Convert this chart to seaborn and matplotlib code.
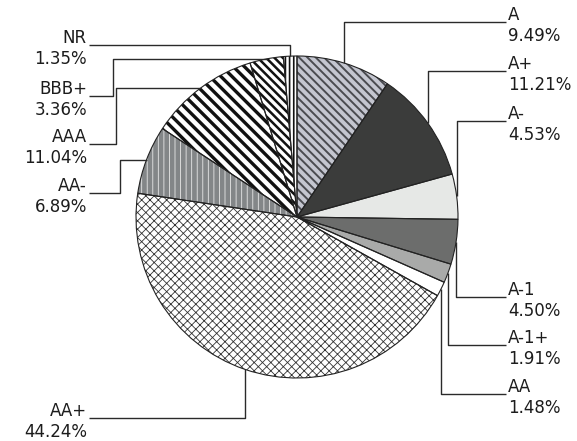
import matplotlib
matplotlib.use("Agg")
import matplotlib.pyplot as plt
import seaborn as sns
import numpy as np

# ---- data ----
ratings = ["A", "A+", "A-", "A-1", "A-1+", "AA", "AA+", "AA-", "AAA", "BBB+", "NR"]
shares = [9.49, 11.21, 4.53, 4.50, 1.91, 1.48, 44.24, 6.89, 11.04, 3.36, 1.35]
pct_text = [f"{v:.2f}%" for v in shares]

# ---- styles ----
face = ["#c4c6d0", "#3b3c3b", "#e6e8e6", "#6c6d6c", "#a9aaa9", "#ffffff",
        "#ffffff", "#838688", "#ffffff", "#ffffff", "#ffffff"]
hatches = ["\\\\\\\\", None, None, None, None, None, "xxxx", "|||",
           "\\\\\\", "\\\\\\\\", "||||"]
hatch_col = ["#4a4b50", "#3b3c3b", "#e6e8e6", "#6c6d6c", "#a9aaa9", "#ffffff",
             "#333333", "#e8e8e8", "#111111", "#111111", "#111111"]
hatch_lw = [1.4, 1.0, 1.0, 1.0, 1.0, 1.0, 0.6, 0.6, 2.4, 1.8, 1.2]

# ---- label layout (pixel coordinates, y downward) ----
side = ["R", "R", "R", "R", "R", "R", "L", "L", "L", "L", "L"]
line_y = [22, 71, 121, 297, 345, 394, 418, 193, 144, 96, 45]
elbow_x = [None, None, None, None, None, None, None, 120, 116, 113, None]

W, H = 577, 441
CX, CY, R = 297, 217, 161

sns.set_theme(style="white")
plt.rcParams["font.family"] = ["DejaVu Sans"]

fig = plt.figure(figsize=(W / 100, H / 100), dpi=100)
ax = fig.add_axes([0, 0, 1, 1])


def Y(py):
    return H - py


wedges, _ = ax.pie(shares, startangle=90, counterclock=False,
                   center=(CX, Y(CY)), radius=R,
                   colors=face,
                   wedgeprops=dict(linewidth=0))
for w, hc, ht, hl in zip(wedges, hatch_col, hatches, hatch_lw):
    w.set_edgecolor(hc)
    w.set_linewidth(0)
    if ht:
        w.set_hatch(ht)
        if hasattr(w, "set_hatch_linewidth"):
            w.set_hatch_linewidth(hl)
        else:
            w._hatch_linewidth = hl

# outlines
ax.pie(shares, startangle=90, counterclock=False, center=(CX, Y(CY)), radius=R,
       colors=["none"] * len(shares),
       wedgeprops=dict(fill=False, edgecolor="#222222", linewidth=0.8))

line_kw = dict(color="#2a2a2a", lw=1.0, solid_capstyle="butt", zorder=5)
txt_kw = dict(fontsize=12, color="#1c1c1c", va="baseline")

for w, lab, pct, sd, ly, ex in zip(wedges, ratings, pct_text, side, line_y, elbow_x):
    th = np.deg2rad((w.theta1 + w.theta2) / 2)
    axp = CX + R * np.cos(th)
    ayp = CY - R * np.sin(th)
    if sd == "R":
        xs = [axp, axp, 506]
        ys = [ayp, ly, ly]
        tx, ha = 508, "left"
    else:
        if ex is None:
            xs = [axp, axp, 89]
            ys = [ayp, ly, ly]
        else:
            xs = [axp, ex, ex, 89]
            ys = [ayp, ayp, ly, ly]
        tx, ha = 87, "right"
    ax.plot(xs, [Y(v) for v in ys], **line_kw)
    ax.text(tx, Y(ly - 2), lab, ha=ha, **txt_kw)
    ax.text(tx, Y(ly + 19), pct, ha=ha, **txt_kw)

ax.set_xlim(0, W)
ax.set_ylim(0, H)
ax.set_aspect("equal")
ax.axis("off")

fig.savefig("out.png", dpi=100, facecolor="white")
